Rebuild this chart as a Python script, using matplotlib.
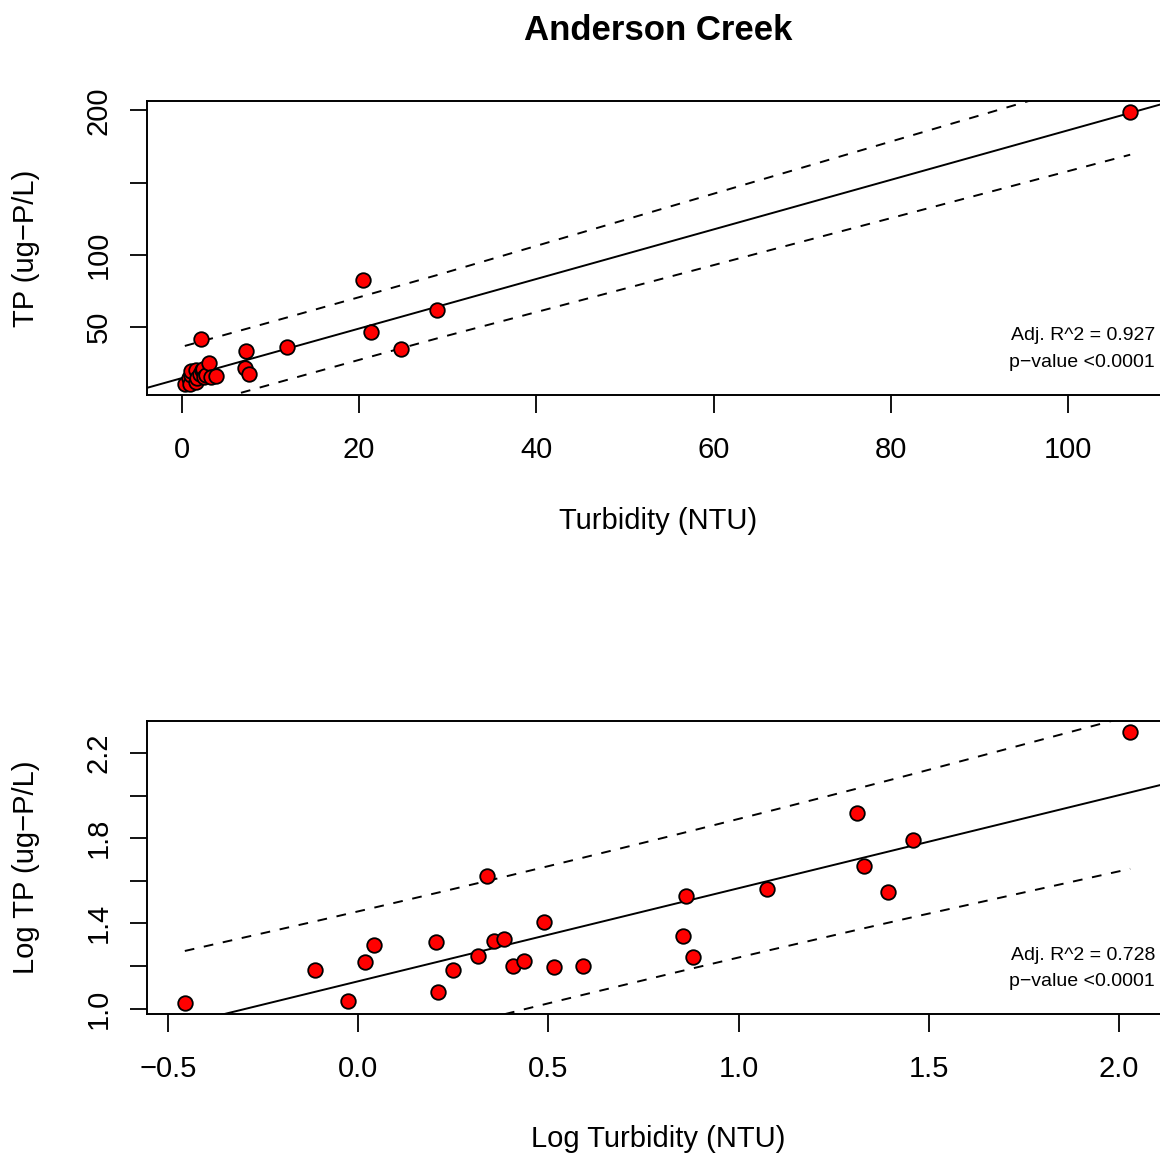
import matplotlib
matplotlib.use("Agg")
import matplotlib.pyplot as plt
import numpy as np

plt.rcParams["font.family"] = ["Liberation Sans", "DejaVu Sans"]

# values (linear units)
turbidity = [0.35, 0.77, 0.94, 1.04, 1.10, 1.60, 1.62, 1.77, 2.06, 2.18, 2.28, 2.42, 2.55,
             2.73, 3.08, 3.27, 3.90, 7.14, 7.28, 7.59, 11.9, 20.5, 21.3, 24.7, 28.8, 107]
tp = [10.6, 15.1, 10.9, 16.6, 19.8, 20.5, 11.9, 15.1, 17.7, 41.8, 20.7, 21.1, 15.8,
      16.8, 25.4, 15.6, 15.9, 21.8, 33.7, 17.4, 36.3, 82.8, 46.6, 35.2, 61.8, 199]

adj_r2 = ["0.927", "0.728"]
p_text = "p\u2212value <0.0001"

top_xticks = [0, 20, 40, 60, 80, 100]
top_yticks = [50, 100, 150, 200]
top_ylabels = ["50", "100", "", "200"]
bot_xticks = [-0.5, 0.0, 0.5, 1.0, 1.5, 2.0]
bot_xlabels = ["\u22120.5", "0.0", "0.5", "1.0", "1.5", "2.0"]
bot_yticks = [1.0, 1.2, 1.4, 1.6, 1.8, 2.0, 2.2]
bot_ylabels = ["1.0", "", "1.4", "", "1.8", "", "2.2"]

T_CRIT = 2.0639  # t(0.975, df=24)

W, H = 1160, 1157
fig = plt.figure(figsize=(W / 100, H / 100), dpi=100)


def px_axes(left, top, right, bottom):
    return fig.add_axes([left / W, 1 - bottom / H, (right - left) / W, (bottom - top) / H])


def rlim(v):
    lo, hi = min(v), max(v)
    d = (hi - lo) * 0.04
    return lo - d, hi + d


def panel(ax, x, y, xticks, xlabels, yticks, ylabels):
    x = np.asarray(x, float)
    y = np.asarray(y, float)
    ax.set_xlim(*rlim(x))
    ax.set_ylim(*rlim(y))
    # linear fit and 95% prediction interval
    b, a = np.polyfit(x, y, 1)
    n = len(x)
    res = y - (a + b * x)
    s = np.sqrt(np.sum(res ** 2) / (n - 2))
    xs = np.sort(x)
    se = s * np.sqrt(1 + 1 / n + (xs - x.mean()) ** 2 / np.sum((x - x.mean()) ** 2))
    fit = a + b * xs
    xl = np.array(ax.get_xlim())
    ax.plot(xl, a + b * xl, color="black", lw=1.4, zorder=2)
    ax.plot(xs, fit + T_CRIT * se, color="black", lw=1.4, ls=(0, (5, 5)), zorder=2)
    ax.plot(xs, fit - T_CRIT * se, color="black", lw=1.4, ls=(0, (5, 5)), zorder=2)
    ax.scatter(x, y, s=110, facecolor="red", edgecolor="black", linewidth=1.3, zorder=3)
    ax.set_xticks(xticks)
    ax.set_xticklabels(xlabels)
    ax.set_yticks(yticks)
    ax.set_yticklabels(ylabels, rotation=90, va="center")
    ax.tick_params(axis="both", direction="out", length=12.6, width=1.3, labelsize=21)
    ax.tick_params(axis="x", pad=17)
    ax.tick_params(axis="y", pad=12)
    for sp in ax.spines.values():
        sp.set_linewidth(1.4)


ax1 = px_axes(147, 101, 1168, 395)
panel(ax1, turbidity, tp, top_xticks, [str(t) for t in top_xticks], top_yticks, top_ylabels)

ax2 = px_axes(147, 721, 1168, 1014)
panel(ax2, np.log10(turbidity), np.log10(tp), bot_xticks, bot_xlabels, bot_yticks, bot_ylabels)

fig.text(658 / W, 1 - 31 / H, "Anderson Creek", ha="center", va="center",
         fontsize=25, fontweight="bold")
fig.text(658 / W, 1 - 521 / H, "Turbidity (NTU)", ha="center", va="center", fontsize=21)
fig.text(658 / W, 1 - 1139 / H, "Log Turbidity (NTU)", ha="center", va="center", fontsize=21)
fig.text(26 / W, 1 - 248 / H, "TP (ug\u2212P/L)", ha="center", va="center",
         rotation=90, fontsize=21)
fig.text(26 / W, 1 - 867 / H, "Log TP (ug\u2212P/L)", ha="center", va="center",
         rotation=90, fontsize=21)

for r2, y1, y2 in [(adj_r2[0], 335, 362), (adj_r2[1], 955, 982)]:
    fig.text(1155 / W, 1 - y1 / H, "Adj. R^2 = " + r2, ha="right", va="center", fontsize=14)
    fig.text(1155 / W, 1 - y2 / H, p_text, ha="right", va="center", fontsize=14)

fig.savefig("out.png", dpi=100)
